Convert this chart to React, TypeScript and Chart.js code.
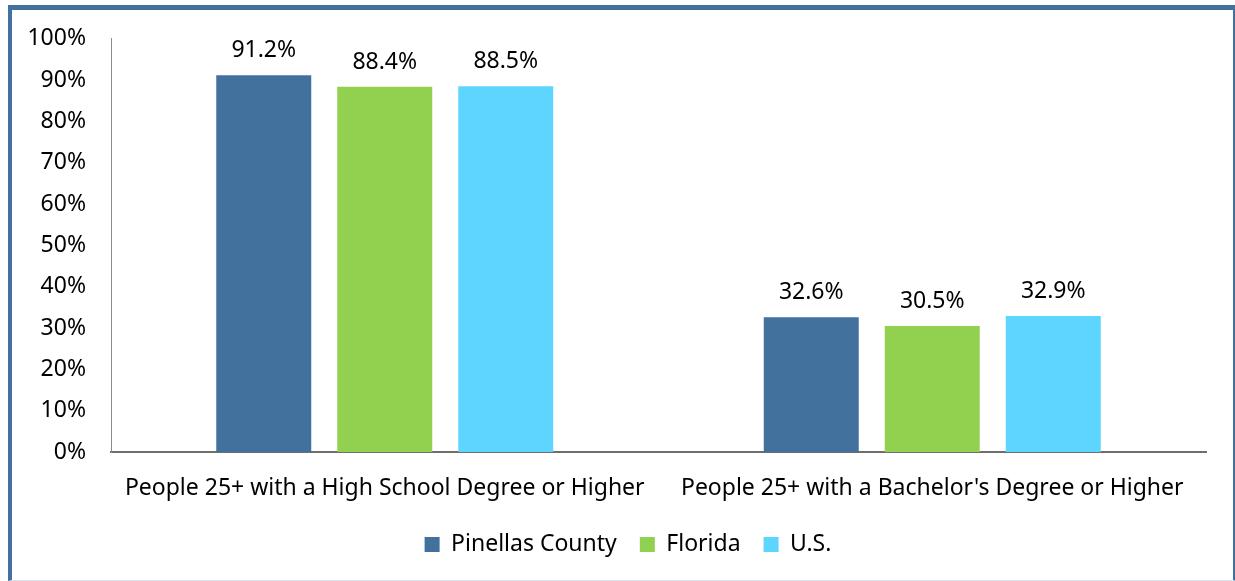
import React, { useEffect, useRef } from "react";
import { Chart, registerables } from "chart.js";

Chart.register(...registerables);

const categories = [
  "People 25+ with a High School Degree or Higher",
  "People 25+ with a Bachelor's Degree or Higher",
];
const seriesNames = ["Pinellas County", "Florida", "U.S."];
const pinellas = [91.2, 32.6];
const florida = [88.4, 30.5];
const us = [88.5, 32.9];
const seriesColors = ["#41719C", "#92D050", "#5DD5FF"];
const yTicks = [0, 10, 20, 30, 40, 50, 60, 70, 80, 90, 100];

const FONT = "'Noto Sans', sans-serif";
const FS = 23;

const valueLabels = {
  id: "valueLabels",
  afterDatasetsDraw(chart: any) {
    const ctx = chart.ctx;
    ctx.save();
    ctx.font = `${FS}px ${FONT}`;
    ctx.fillStyle = "#000";
    ctx.textAlign = "center";
    ctx.textBaseline = "alphabetic";
    chart.data.datasets.forEach((ds: any, i: number) => {
      const meta = chart.getDatasetMeta(i);
      meta.data.forEach((el: any, j: number) => {
        ctx.fillText(ds.data[j].toFixed(1) + "%", el.x, el.y - 18);
      });
    });
    ctx.restore();
  },
};

const legendShift = {
  id: "legendShift",
  afterLayout(chart: any) {
    if (chart.legend) {
      chart.legend.left += 19;
      chart.legend.right += 19;
    }
  },
};

export default function App() {
  const ref = useRef<HTMLCanvasElement>(null);
  useEffect(() => {
    if (!ref.current) return;
    const values = [pinellas, florida, us];
    const chart = new Chart(ref.current, {
      type: "bar",
      data: {
        labels: categories,
        datasets: seriesNames.map((name, i) => ({
          label: name,
          data: values[i],
          backgroundColor: seriesColors[i],
          borderWidth: 0,
          categoryPercentage: 0.663,
          barPercentage: 0.785,
        })),
      },
      options: {
        animation: false,
        responsive: false,
        maintainAspectRatio: false,
        layout: { padding: { left: 12, top: 37, right: 29, bottom: 15 } },
        plugins: {
          tooltip: { enabled: false },
          legend: {
            position: "bottom",
            labels: {
              font: { family: FONT, size: FS },
              color: "#000",
              boxWidth: 15,
              boxHeight: 15,
              padding: 23,
            },
          },
        },
        scales: {
          x: {
            grid: { display: false, drawTicks: false },
            border: { display: true, color: "#6e6e6e", width: 2 },
            ticks: {
              font: { family: FONT, size: FS },
              color: "#000",
              padding: 23,
              maxRotation: 0,
              autoSkip: false,
            },
            afterFit(scale: any) {
              scale.height = 58;
            },
          },
          y: {
            min: 0,
            max: 100,
            grid: { display: false, drawTicks: false },
            border: { display: true, color: "#8c8c8c", width: 1 },
            afterBuildTicks(scale: any) {
              scale.ticks = yTicks.map((v) => ({ value: v }));
            },
            ticks: {
              font: { family: FONT, size: FS },
              color: "#000",
              padding: 25,
              callback: (v: any) => v + "%",
            },
            afterFit(scale: any) {
              scale.width = 99;
            },
          },
        },
      },
      plugins: [valueLabels, legendShift],
    });
    return () => chart.destroy();
  }, []);

  return (
    <div style={{ position: "fixed", left: 0, top: 0, width: 1235, height: 581, background: "#fff" }}>
      <div
        style={{
          position: "absolute",
          left: 8,
          top: 5,
          width: 1229,
          height: 576,
          boxSizing: "border-box",
          borderLeft: "4px solid #41719C",
          borderTop: "5px solid #41719C",
          borderRight: "4px solid #41719C",
          borderBottom: "1px solid #DCE7F2",
          background: "#fff",
        }}
      />
      <canvas
        ref={ref}
        width={1235}
        height={581}
        style={{ position: "absolute", left: 0, top: 0, width: 1235, height: 581 }}
      />
    </div>
  );
}
